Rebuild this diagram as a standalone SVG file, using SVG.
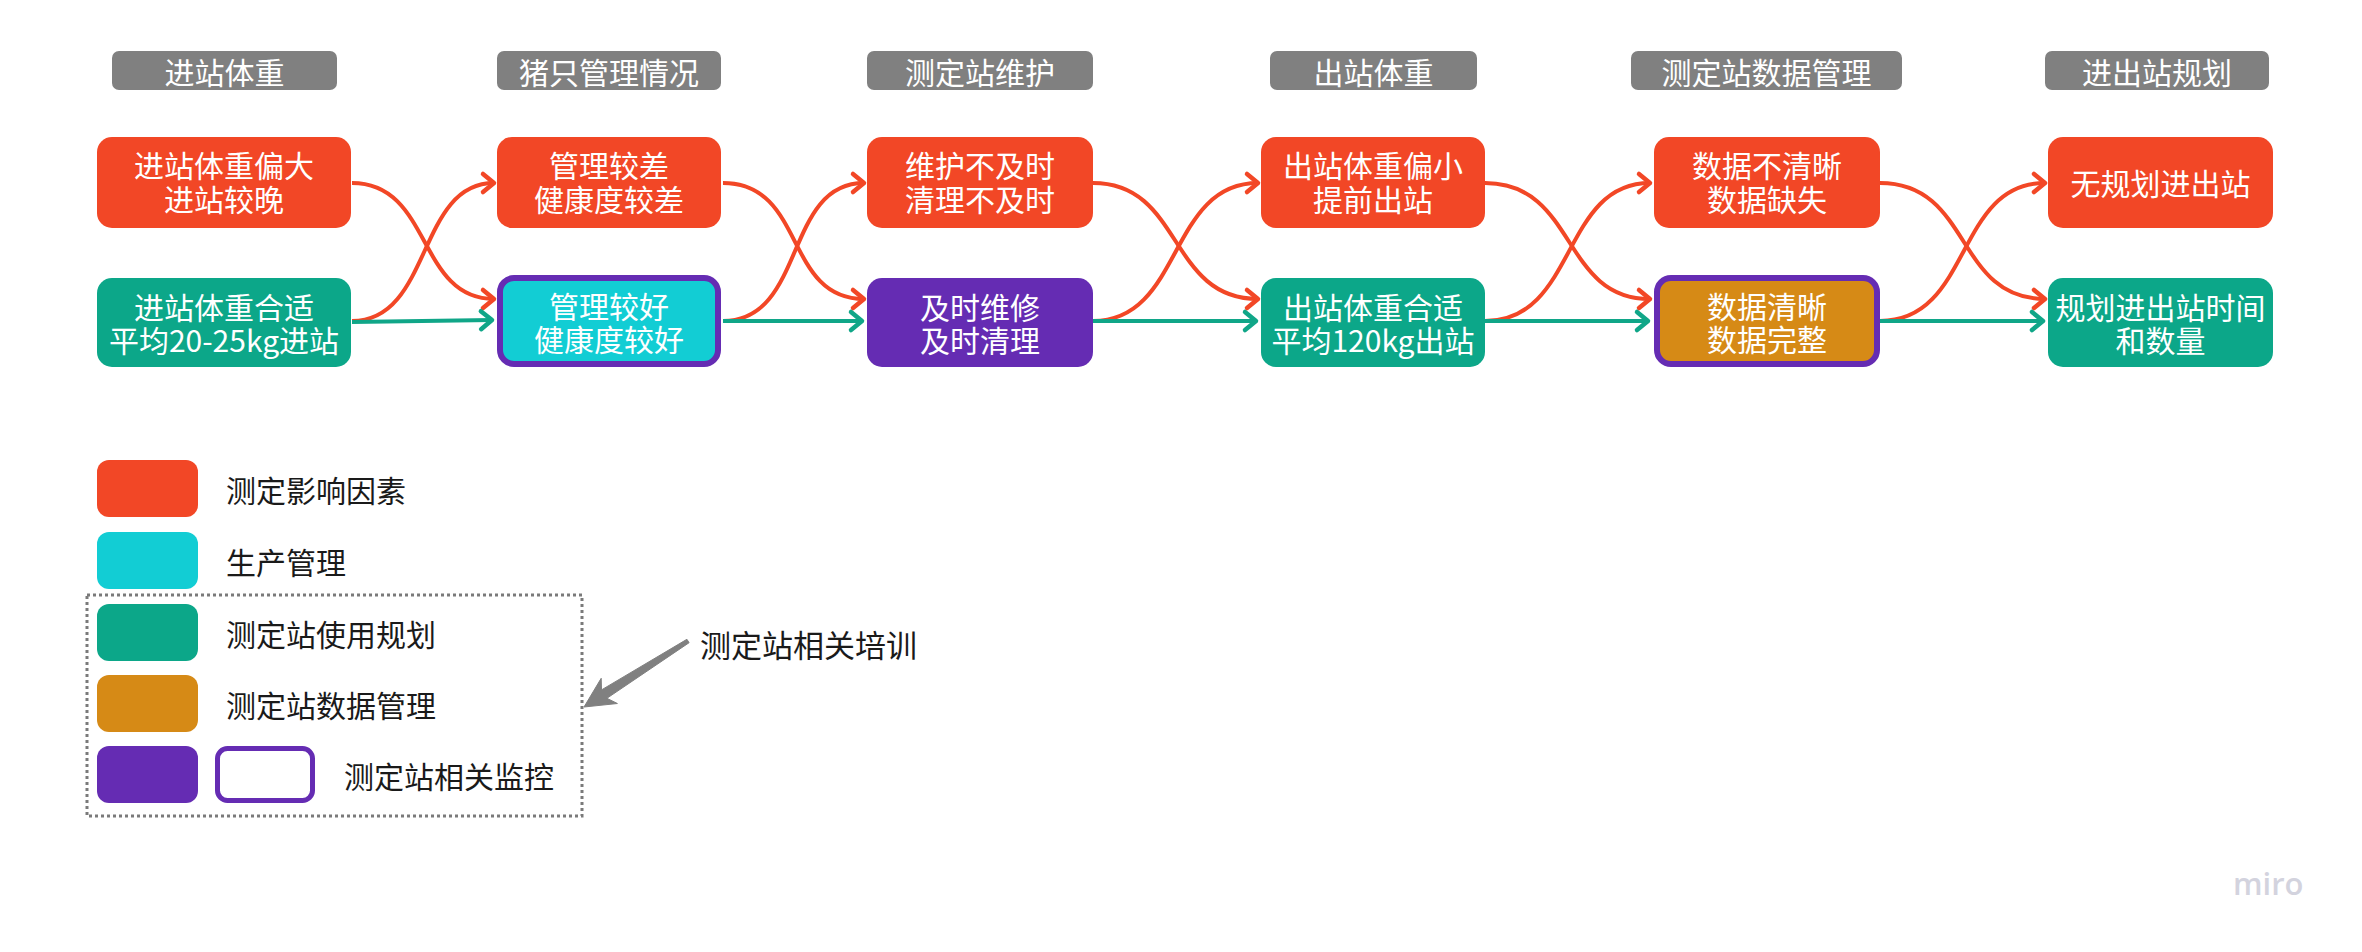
<svg xmlns="http://www.w3.org/2000/svg" width="2362" height="952" viewBox="0 0 2362 952">
<style>
text{font-family:"Noto Sans CJK SC","Liberation Sans",sans-serif;}
.h rect{fill:#808080;}
.h text,.n text{fill:#fff;font-size:30px;text-anchor:middle;dominant-baseline:central;}
.red{fill:#f24726;}
.cyan{fill:#12cdd4;}
.green{fill:#0ca789;}
.purple{fill:#652cb3;}
.orange{fill:#d68a16;}
.bord{stroke:#652cb3;stroke-width:6;}
.lg{fill:#1a1a1a;font-size:30px;dominant-baseline:central;}
.cr{fill:none;stroke:#f24726;stroke-width:4;marker-end:url(#ar);}
.cg{fill:none;stroke:#10a688;stroke-width:4;marker-end:url(#ag);}
</style>
<defs>
<marker id="ar" markerUnits="userSpaceOnUse" markerWidth="30" markerHeight="30" viewBox="-15 -15 30 30" refX="0" refY="0" orient="auto">
<path d="M-11,-9 L0,0 L-11,9" fill="none" stroke="#f24726" stroke-width="4.5" stroke-linecap="round" stroke-linejoin="round"/>
</marker>
<marker id="ag" markerUnits="userSpaceOnUse" markerWidth="30" markerHeight="30" viewBox="-15 -15 30 30" refX="0" refY="0" orient="auto">
<path d="M-11,-9 L0,0 L-11,9" fill="none" stroke="#10a688" stroke-width="4.5" stroke-linecap="round" stroke-linejoin="round"/>
</marker>
</defs>

<g id="headers">
<g id="h1" class="h"><rect x="112" y="51" width="225" height="39" rx="7"/><text x="224.5" y="70.5">进站体重</text></g>
<g id="h2" class="h"><rect x="497" y="51" width="224" height="39" rx="7"/><text x="609" y="70.5">猪只管理情况</text></g>
<g id="h3" class="h"><rect x="867" y="51" width="226" height="39" rx="7"/><text x="980" y="70.5">测定站维护</text></g>
<g id="h4" class="h"><rect x="1270" y="51" width="207" height="39" rx="7"/><text x="1373.5" y="70.5">出站体重</text></g>
<g id="h5" class="h"><rect x="1631" y="51" width="271" height="39" rx="7"/><text x="1766.5" y="70.5">测定站数据管理</text></g>
<g id="h6" class="h"><rect x="2045" y="51" width="224" height="39" rx="7"/><text x="2157" y="70.5">进出站规划</text></g>
</g>

<g id="connectors">
<path class="cr" d="M352,183 C432,183 417,299 494,299"/>
<path class="cr" d="M352,321 C432,321 417,183 494,183"/>
<path class="cg" d="M352,322 L492,320"/>

<path class="cr" d="M723,183 C806,183 784,299 864,299"/>
<path class="cr" d="M723,321 C806,321 784,183 864,183"/>
<path class="cg" d="M723,321 L862,321"/>

<path class="cr" d="M1093,183 C1183,183 1168,299 1258,299"/>
<path class="cr" d="M1093,321 C1183,321 1168,183 1258,183"/>
<path class="cg" d="M1093,321 L1256,321"/>

<path class="cr" d="M1485,183 C1577,183 1561,299 1650,299"/>
<path class="cr" d="M1485,321 C1577,321 1561,183 1650,183"/>
<path class="cg" d="M1485,321 L1648,321"/>

<path class="cr" d="M1880,183 C1972,183 1955,299 2045,299"/>
<path class="cr" d="M1880,321 C1972,321 1955,183 2045,183"/>
<path class="cg" d="M1880,321 L2043,321"/>
</g>

<g id="n1a" class="n"><rect class="red" x="97" y="137" width="254" height="91" rx="15"/><text><tspan x="224" y="164">进站体重偏大</tspan><tspan x="224" y="198">进站较晚</tspan></text></g>
<g id="n1b" class="n"><rect class="green" x="97" y="278" width="254" height="89" rx="15"/><text><tspan x="224" y="306">进站体重合适</tspan><tspan x="224" y="339">平均20-25kg进站</tspan></text></g>

<g id="n2a" class="n"><rect class="red" x="497" y="137" width="224" height="91" rx="15"/><text><tspan x="609" y="164">管理较差</tspan><tspan x="609" y="198">健康度较差</tspan></text></g>
<g id="n2b" class="n"><rect class="cyan bord" x="500" y="278" width="218" height="86" rx="14"/><text><tspan x="609" y="305">管理较好</tspan><tspan x="609" y="338">健康度较好</tspan></text></g>

<g id="n3a" class="n"><rect class="red" x="867" y="137" width="226" height="91" rx="15"/><text><tspan x="980" y="164">维护不及时</tspan><tspan x="980" y="198">清理不及时</tspan></text></g>
<g id="n3b" class="n"><rect class="purple" x="867" y="278" width="226" height="89" rx="15"/><text><tspan x="980" y="306">及时维修</tspan><tspan x="980" y="339">及时清理</tspan></text></g>

<g id="n4a" class="n"><rect class="red" x="1261" y="137" width="224" height="91" rx="15"/><text><tspan x="1373" y="164">出站体重偏小</tspan><tspan x="1373" y="198">提前出站</tspan></text></g>
<g id="n4b" class="n"><rect class="green" x="1261" y="278" width="224" height="89" rx="15"/><text><tspan x="1373" y="306">出站体重合适</tspan><tspan x="1373" y="339">平均120kg出站</tspan></text></g>

<g id="n5a" class="n"><rect class="red" x="1654" y="137" width="226" height="91" rx="15"/><text><tspan x="1767" y="164">数据不清晰</tspan><tspan x="1767" y="198">数据缺失</tspan></text></g>
<g id="n5b" class="n"><rect class="orange bord" x="1657" y="278" width="220" height="86" rx="14"/><text><tspan x="1767" y="305">数据清晰</tspan><tspan x="1767" y="338">数据完整</tspan></text></g>

<g id="n6a" class="n"><rect class="red" x="2048" y="137" width="225" height="91" rx="15"/><text x="2160.5" y="182">无规划进出站</text></g>
<g id="n6b" class="n"><rect class="green" x="2048" y="278" width="225" height="89" rx="15"/><text><tspan x="2160.5" y="306">规划进出站时间</tspan><tspan x="2160.5" y="339">和数量</tspan></text></g>

<g id="legend">
<rect x="87" y="595" width="495" height="221" fill="none" stroke="#7a7a7a" stroke-width="3" stroke-dasharray="3 3"/>
<rect class="red" x="97" y="460" width="101" height="57" rx="12"/>
<text class="lg" x="226" y="488.5">测定影响因素</text>
<rect class="cyan" x="97" y="532" width="101" height="57" rx="12"/>
<text class="lg" x="226" y="560.5">生产管理</text>
<rect class="green" x="97" y="604" width="101" height="57" rx="12"/>
<text class="lg" x="226" y="632.5">测定站使用规划</text>
<rect class="orange" x="97" y="675" width="101" height="57" rx="12"/>
<text class="lg" x="226" y="703.5">测定站数据管理</text>
<rect class="purple" x="97" y="746" width="101" height="57" rx="12"/>
<rect x="217.5" y="748.5" width="95" height="52" rx="10" fill="#fff" stroke="#652cb3" stroke-width="5"/>
<text class="lg" x="344" y="774.5">测定站相关监控</text>
</g>

<g id="training">
<polygon points="584,707 617.4,703.5 606.9,698.3 689.1,642.7 686.9,639.3 601.5,689.9 601.2,678.3" fill="#808080" stroke="#808080" stroke-width="1" stroke-linejoin="round"/>
<text class="lg" x="700" y="643" style="font-size:31px">测定站相关培训</text>
</g>

<text x="2233" y="895" style="font-family:'Open Sans','Liberation Sans',sans-serif;font-size:31px;font-weight:600;fill:#d3d3de">miro</text>
</svg>
